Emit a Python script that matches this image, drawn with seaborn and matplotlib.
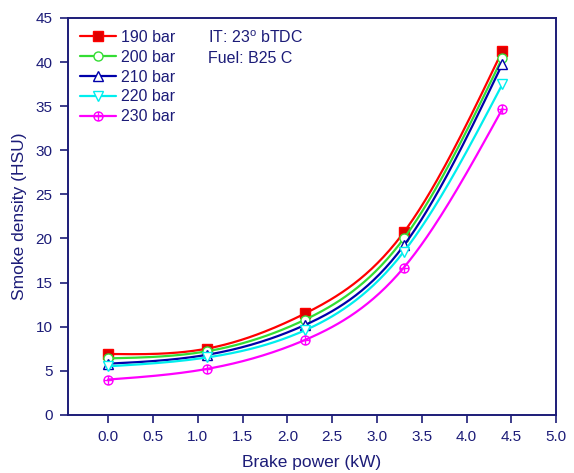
import numpy as np
import pandas as pd
import matplotlib
matplotlib.use("Agg")
import matplotlib.pyplot as plt
import seaborn as sns
from matplotlib.path import Path

sns.set_style("white")
plt.rcParams['font.family'] = ['Liberation Sans', 'DejaVu Sans']

power = [0.0, 1.1, 2.2, 3.3, 4.4]
series_names = ["190 bar", "200 bar", "210 bar", "220 bar", "230 bar"]
s190 = [6.9, 7.5, 11.5, 20.7, 41.3]
s200 = [6.4, 7.2, 10.8, 20.0, 40.5]
s210 = [5.8, 6.8, 10.2, 19.2, 39.8]
s220 = [5.5, 6.5, 9.6, 18.5, 37.5]
s230 = [4.0, 5.2, 8.5, 16.7, 34.7]
x_ticks = [0.0, 0.5, 1.0, 1.5, 2.0, 2.5, 3.0, 3.5, 4.0, 4.5, 5.0]
y_ticks = [0, 5, 10, 15, 20, 25, 30, 35, 40, 45]

values = [s190, s200, s210, s220, s230]
colors = ["#ff0000", "#33dd33", "#0000aa", "#00eeee", "#ff00ff"]

circ = Path.unit_circle()
cross = Path([(-1, 0), (1, 0), (0, -1), (0, 1)],
             [Path.MOVETO, Path.LINETO, Path.MOVETO, Path.LINETO])
oplus = Path.make_compound_path(circ, cross)

markers = ["s", "o", "^", "v", oplus]
mfc = ["#dd0000", "white", "white", "white", "none"]


def natural_spline(x, y, n=200):
    x = np.asarray(x, float); y = np.asarray(y, float)
    k = len(x); h = np.diff(x)
    A = np.zeros((k, k)); b = np.zeros(k)
    A[0, 0] = 1; A[-1, -1] = 1
    for i in range(1, k - 1):
        A[i, i - 1] = h[i - 1]; A[i, i] = 2 * (h[i - 1] + h[i]); A[i, i + 1] = h[i]
        b[i] = 3 * ((y[i + 1] - y[i]) / h[i] - (y[i] - y[i - 1]) / h[i - 1])
    c = np.linalg.solve(A, b)
    xs = np.linspace(x[0], x[-1], n)
    ys = np.empty_like(xs)
    for j, xv in enumerate(xs):
        i = min(np.searchsorted(x, xv, side='right') - 1, k - 2)
        dx = xv - x[i]
        bb = (y[i + 1] - y[i]) / h[i] - h[i] * (2 * c[i] + c[i + 1]) / 3
        d = (c[i + 1] - c[i]) / (3 * h[i])
        ys[j] = y[i] + bb * dx + c[i] * dx ** 2 + d * dx ** 3
    return xs, ys


fig = plt.figure(figsize=(5.74, 4.73), dpi=100)
ax = fig.add_axes([0.118, 0.123, 0.851, 0.839])

axcol = "#1c1c78"
for name, vals, col, mk, fc in zip(series_names, values, colors, markers, mfc):
    xs, ys = natural_spline(power, vals)
    smooth = pd.DataFrame({"x": xs, "y": ys})
    sns.lineplot(data=smooth, x="x", y="y", color=col, lw=1.6, ax=ax, sort=False)
    pts = pd.DataFrame({"x": power, "y": vals})
    ax.plot(pts["x"], pts["y"], linestyle="none", marker=mk, ms=6.5,
            markerfacecolor=fc, markeredgecolor=col, mew=1.0)
    ax.plot([], [], color=col, lw=1.6, marker=mk, ms=6.5,
            markerfacecolor=fc, markeredgecolor=col, mew=1.0, label=name)

ax.set_xlim(-0.45, 5.0)
ax.set_ylim(0, 45)
ax.set_xticks(x_ticks)
ax.set_xticklabels([f"{t:.1f}" for t in x_ticks])
ax.set_yticks(y_ticks)
ax.set_xlabel("Brake power (kW)", fontsize=12.5, color=axcol, labelpad=8)
ax.set_ylabel("Smoke density (HSU)", fontsize=12.5, color=axcol, labelpad=6)
ax.tick_params(axis='both', direction='out', length=6, width=1.2, color=axcol,
               labelcolor=axcol, labelsize=11, bottom=True, left=True, pad=5)
for sp in ax.spines.values():
    sp.set_color(axcol)
    sp.set_linewidth(1.4)

leg = ax.legend(loc="upper left", frameon=False, fontsize=11.5,
                handlelength=2.3, handletextpad=0.3, labelspacing=0.3,
                borderaxespad=0.45, borderpad=0.3, labelcolor=axcol)

ax.text(0.288, 0.970, r"IT: 23$^{\mathregular{o}}$ bTDC", transform=ax.transAxes,
        fontsize=11.5, color=axcol, va="top")
ax.text(0.288, 0.916, "Fuel: B25 C", transform=ax.transAxes,
        fontsize=11.5, color=axcol, va="top")

fig.savefig("out.png", dpi=100)
